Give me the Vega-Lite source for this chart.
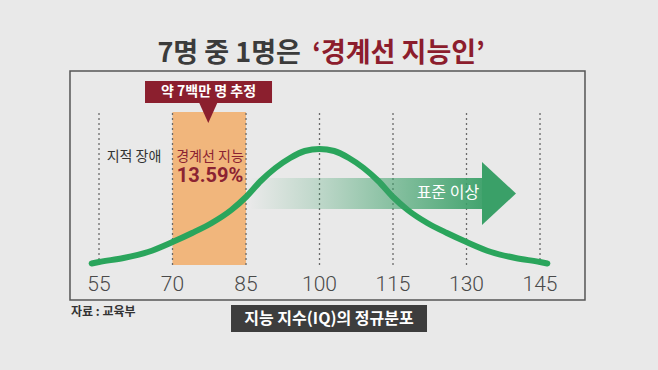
{
  "$schema": "https://vega.github.io/schema/vega-lite/v6.json",
  "width": 658,
  "height": 370,
  "autosize": {"type": "fit", "contains": "padding"},
  "padding": 0,
  "background": "#e9e9e9",
  "config": {"view": {"stroke": null}, "font": "Noto Sans CJK KR"},
  "datasets": {
    "curve": [
      {"iq": 53.5, "h": 1.5}, {"iq": 55, "h": 3}, {"iq": 60, "h": 7}, {"iq": 65, "h": 13},
      {"iq": 70, "h": 23}, {"iq": 74, "h": 32}, {"iq": 78, "h": 42}, {"iq": 82, "h": 55},
      {"iq": 85, "h": 68}, {"iq": 88, "h": 84}, {"iq": 91, "h": 97}, {"iq": 94, "h": 107},
      {"iq": 97, "h": 114}, {"iq": 100, "h": 116}, {"iq": 103, "h": 114}, {"iq": 106, "h": 107},
      {"iq": 109, "h": 97}, {"iq": 112, "h": 84}, {"iq": 115, "h": 68}, {"iq": 118, "h": 55},
      {"iq": 122, "h": 42}, {"iq": 126, "h": 32}, {"iq": 130, "h": 23}, {"iq": 135, "h": 13},
      {"iq": 140, "h": 7}, {"iq": 145, "h": 3}, {"iq": 146.5, "h": 1.5}
    ],
    "ticks": [
      {"iq": 55, "label": "55"}, {"iq": 70, "label": "70"}, {"iq": 85, "label": "85"},
      {"iq": 100, "label": "100"}, {"iq": 115, "label": "115"}, {"iq": 130, "label": "130"},
      {"iq": 145, "label": "145"}
    ],
    "one": [{}]
  },
  "layer": [
    {
      "data": {"name": "one"},
      "mark": {"type": "rect", "fill": "transparent", "stroke": "#555555", "strokeWidth": 1.5},
      "encoding": {
        "x": {"datum": 49.08, "type": "quantitative", "scale": {"domain": [34.796, 169.08], "nice": false, "zero": false}, "axis": null},
        "x2": {"datum": 154.18},
        "y": {"datum": 194, "type": "quantitative", "scale": {"domain": [-105, 265], "nice": false, "zero": false}, "axis": null},
        "y2": {"datum": -35}
      }
    },
    {
      "data": {"name": "one"},
      "mark": {"type": "rect", "fill": "#f1b67c"},
      "encoding": {
        "x": {"datum": 70, "type": "quantitative"},
        "x2": {"datum": 85},
        "y": {"datum": 0, "type": "quantitative"},
        "y2": {"datum": 153}
      }
    },
    {
      "data": {"name": "ticks"},
      "mark": {"type": "rule", "stroke": "#6a6a6a", "strokeDash": [2, 3], "strokeWidth": 1.3},
      "encoding": {
        "x": {"field": "iq", "type": "quantitative"},
        "y": {"datum": 0, "type": "quantitative"},
        "y2": {"datum": 153}
      }
    },
    {
      "data": {"name": "ticks"},
      "mark": {"type": "text", "font": "Roboto", "fontWeight": 300, "fontSize": 21, "color": "#4a4a4a", "baseline": "middle", "align": "center"},
      "encoding": {
        "x": {"field": "iq", "type": "quantitative"},
        "y": {"datum": -20, "type": "quantitative"},
        "text": {"field": "label"}
      }
    },
    {
      "data": {"name": "curve"},
      "mark": {"type": "line", "stroke": "#2aa55c", "strokeWidth": 6, "strokeCap": "round", "interpolate": "monotone"},
      "encoding": {
        "x": {"field": "iq", "type": "quantitative"},
        "y": {"field": "h", "type": "quantitative"}
      }
    },
    {
      "data": {"name": "one"},
      "mark": {
        "type": "rect",
        "fill": {
          "gradient": "linear", "x1": 0, "y1": 0, "x2": 1, "y2": 0,
          "stops": [
            {"offset": 0, "color": "rgba(58,160,104,0)"},
            {"offset": 0.3, "color": "rgba(58,160,104,0.25)"},
            {"offset": 0.6, "color": "rgba(58,160,104,0.55)"},
            {"offset": 1, "color": "rgba(58,160,104,0.95)"}
          ]
        }
      },
      "encoding": {
        "x": {"datum": 85.8, "type": "quantitative"},
        "x2": {"datum": 133.6},
        "y": {"datum": 87, "type": "quantitative"},
        "y2": {"datum": 56}
      }
    },
    {
      "data": {"name": "one"},
      "mark": {"type": "point", "shape": "M -0.54 -1 L 0.54 0 L -0.54 1 Z", "size": 3969, "filled": true, "fill": "#3aa068", "opacity": 1, "strokeWidth": 0},
      "encoding": {
        "x": {"datum": 136.63, "type": "quantitative"},
        "y": {"datum": 71.5, "type": "quantitative"}
      }
    },
    {
      "data": {"name": "one"},
      "mark": {"type": "text", "text": "표준 이상", "fontSize": 16, "color": "#ffffff", "align": "center", "baseline": "middle"},
      "encoding": {
        "x": {"datum": 126.2, "type": "quantitative"},
        "y": {"datum": 72, "type": "quantitative"}
      }
    },
    {
      "data": {"name": "one"},
      "mark": {"type": "rect", "fill": "#8b1f2e"},
      "encoding": {
        "x": {"datum": 64.39, "type": "quantitative"},
        "x2": {"datum": 90.31},
        "y": {"datum": 184, "type": "quantitative"},
        "y2": {"datum": 162}
      }
    },
    {
      "data": {"name": "one"},
      "mark": {"type": "point", "shape": "M -0.9 -1 L 0.9 -1 L 0 1 Z", "size": 400, "filled": true, "fill": "#8b1f2e", "opacity": 1, "strokeWidth": 0},
      "encoding": {
        "x": {"datum": 77.3, "type": "quantitative"},
        "y": {"datum": 152, "type": "quantitative"}
      }
    },
    {
      "data": {"name": "one"},
      "mark": {"type": "text", "text": "약 7백만 명 추정", "fontSize": 14, "fontWeight": "bold", "color": "#ffffff", "align": "center", "baseline": "middle"},
      "encoding": {
        "x": {"datum": 77.35, "type": "quantitative"},
        "y": {"datum": 173, "type": "quantitative"}
      }
    },
    {
      "data": {"name": "one"},
      "mark": {"type": "text", "text": "지적 장애", "fontSize": 14, "color": "#333333", "align": "center", "baseline": "middle"},
      "encoding": {
        "x": {"datum": 62.14, "type": "quantitative"},
        "y": {"datum": 108, "type": "quantitative"}
      }
    },
    {
      "data": {"name": "one"},
      "mark": {"type": "text", "text": "경계선 지능", "fontSize": 14, "color": "#8b2332", "align": "center", "baseline": "middle"},
      "encoding": {
        "x": {"datum": 77.65, "type": "quantitative"},
        "y": {"datum": 108, "type": "quantitative"}
      }
    },
    {
      "data": {"name": "one"},
      "mark": {"type": "text", "text": "13.59%", "font": "Roboto", "fontSize": 20, "fontWeight": "bold", "color": "#8b2332", "align": "center", "baseline": "middle"},
      "encoding": {
        "x": {"datum": 77.65, "type": "quantitative"},
        "y": {"datum": 89, "type": "quantitative"}
      }
    },
    {
      "data": {"name": "one"},
      "mark": {"type": "text", "text": "7명 중 1명은", "fontSize": 27, "fontWeight": "bold", "color": "#3b3b3b", "align": "right", "baseline": "middle"},
      "encoding": {
        "x": {"datum": 96.2, "type": "quantitative"},
        "y": {"datum": 211, "type": "quantitative"}
      }
    },
    {
      "data": {"name": "one"},
      "mark": {"type": "text", "text": "‘경계선 지능인’", "fontSize": 27, "fontWeight": "bold", "color": "#8c1d2d", "align": "left", "baseline": "middle"},
      "encoding": {
        "x": {"datum": 98.5, "type": "quantitative"},
        "y": {"datum": 211, "type": "quantitative"}
      }
    },
    {
      "data": {"name": "one"},
      "mark": {"type": "text", "text": "자료 : 교육부", "fontSize": 12, "fontWeight": "bold", "color": "#333333", "align": "left", "baseline": "middle"},
      "encoding": {
        "x": {"datum": 49.3, "type": "quantitative"},
        "y": {"datum": -47, "type": "quantitative"}
      }
    },
    {
      "data": {"name": "one"},
      "mark": {"type": "rect", "fill": "#3d3d3d"},
      "encoding": {
        "x": {"datum": 81.94, "type": "quantitative"},
        "x2": {"datum": 121.94},
        "y": {"datum": -40, "type": "quantitative"},
        "y2": {"datum": -67}
      }
    },
    {
      "data": {"name": "one"},
      "mark": {"type": "text", "text": "지능 지수(IQ)의 정규분포", "fontSize": 16, "fontWeight": "bold", "color": "#ffffff", "align": "center", "baseline": "middle"},
      "encoding": {
        "x": {"datum": 101.94, "type": "quantitative"},
        "y": {"datum": -53.5, "type": "quantitative"}
      }
    }
  ]
}
